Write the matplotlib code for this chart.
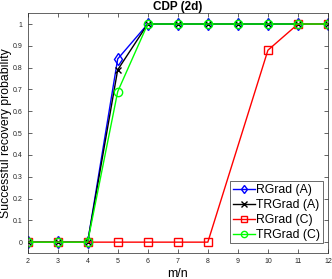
import matplotlib
matplotlib.use("Agg")
import matplotlib.pyplot as plt
import numpy as np

plt.rcParams["font.family"] = ["Liberation Sans", "DejaVu Sans"]

x_a = [2, 3, 4, 5, 6, 7, 8, 9, 10, 11, 12]
rgrad_a = [0, 0, 0, 0.84, 1, 1, 1, 1, 1, 1, 1]
trgrad_a = [0, 0, 0, 0.79, 1, 1, 1, 1, 1, 1, 1]
trgrad_c = [0, 0, 0, 0.69, 1, 1, 1, 1, 1, 1, 1]
x_rc = [2, 3, 4, 5, 6, 7, 8, 10, 11, 12]
rgrad_c = [0, 0, 0, 0, 0, 0, 0, 0.88, 1, 1]

fig = plt.figure(figsize=(3.32, 2.79), dpi=100)
ax = fig.add_axes([0.083, 0.093, 0.905, 0.86])

ax.plot(x_a, rgrad_a, "b-d", lw=1, ms=6, mfc="none", mew=1, label="RGrad (A)")
ax.plot(x_a, trgrad_a, "k-x", lw=1, ms=5, mew=1, label="TRGrad (A)")
ax.plot(x_rc, rgrad_c, "r-s", lw=1, ms=5.5, mfc="none", mew=1, label="RGrad (C)")
ax.plot(x_a, trgrad_c, "-o", color="#00ff00", lw=1, ms=6, mfc="none", mew=1,
        label="TRGrad (C)")

ax.set_xlim(2, 12)
ax.set_ylim(-0.05, 1.05)
ax.set_xticks(range(2, 13))
yt = np.round(np.arange(0, 1.01, 0.1), 1)
ax.set_yticks(yt)
ax.set_yticklabels(["0"] + [f"{v:g}" for v in yt[1:]])
ax.tick_params(direction="in", top=True, right=True, labelsize=5, length=3,
               width=0.5, colors="#262626")
for s in ax.spines.values():
    s.set_linewidth(0.5)
    s.set_color("#262626")

ax.set_xlabel("m/n", fontsize=9, labelpad=2)
ax.set_ylabel("Successful recovery probability", fontsize=8.8, labelpad=0.5)
ax.set_title("CDP (2d)", fontsize=8.5, fontweight="bold", pad=2)

leg = ax.legend(loc="lower right", bbox_to_anchor=(0.983, 0.04), fontsize=8.8,
                frameon=True, fancybox=False, borderpad=0.2, labelspacing=0.25,
                handlelength=1.8, handletextpad=0.15, borderaxespad=0.0,
                markerscale=0.75)
leg.get_frame().set_edgecolor("#262626")
leg.get_frame().set_linewidth(0.6)

fig.savefig("out.png", dpi=100)
